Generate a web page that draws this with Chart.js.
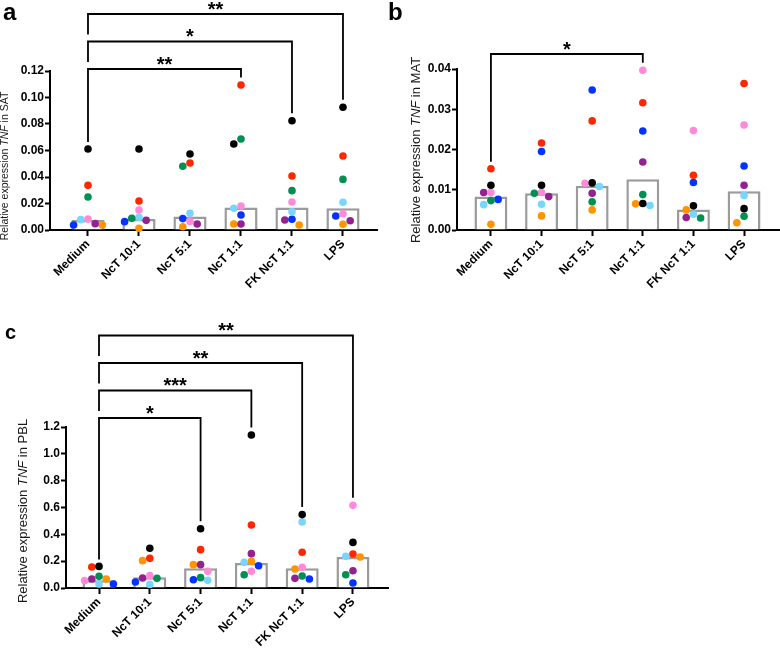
<!DOCTYPE html>
<html>
<head>
<meta charset="utf-8">
<script src="https://cdn.jsdelivr.net/npm/chart.js@4.4.0/dist/chart.umd.min.js"></script>
<style>
  body { margin: 0; background: #fff; width: 780px; height: 654px; position: relative; overflow: hidden; font-family: 'Liberation Sans', Arial, sans-serif; }
  canvas { position: absolute; }
  .tag { position: absolute; font-weight: bold; line-height: 1; color: #000; }
</style>
</head>
<body>
<canvas id="satChart" width="390" height="320" style="left:0;top:0"></canvas>
<canvas id="matChart" width="385" height="320" style="left:395px;top:0"></canvas>
<canvas id="pblChart" width="400" height="336" style="left:0;top:318px"></canvas>
<div class="tag" style="left:3px;top:0;font-size:24px">a</div>
<div class="tag" style="left:388px;top:0;font-size:24px">b</div>
<div class="tag" style="left:5px;top:322px;font-size:20px">c</div>

<script>
// groups on the x axis
const groups = ['Medium', 'NcT 10:1', 'NcT 5:1', 'NcT 1:1', 'FK NcT 1:1', 'LPS'];

// one row per donor: black, red, green, pink, light blue, blue, purple, orange
const satValues = [
  [0.0611, 0.0611, 0.0574, 0.0649, 0.0825, 0.0926],
  [0.0337, 0.0219, 0.0506, 0.1094, 0.0408, 0.0558],
  [0.0249, 0.0088, 0.0481, 0.0687, 0.0297, 0.0382],
  [0.0083, 0.0151, 0.0065, 0.0181, 0.0211, 0.0123],
  [0.0078, 0.0096, 0.0126, 0.0164, 0.0138, 0.0209],
  [0.0038, 0.0063, 0.0086, 0.0113, 0.0081, 0.0106],
  [0.0048, 0.0073, 0.0045, 0.0045, 0.0075, 0.0070],
  [0.0038, 0.0013, 0.0025, 0.0045, 0.0038, 0.0043]
];
const satMedian = [0.0075, 0.0083, 0.0101, 0.0169, 0.0169, 0.0164];
const satTicks = [0, 0.02, 0.04, 0.06, 0.08, 0.10, 0.12];
const satSig = [[0, 3, '**'], [0, 4, '*'], [0, 5, '**']];

const matValues = [
  [0.0111, 0.0111, 0.0117, 0.0066, 0.0060, 0.0053],
  [0.0152, 0.0216, 0.0271, 0.0316, 0.0136, 0.0364],
  [0.0073, 0.0091, 0.0070, 0.0088, 0.0030, 0.0034],
  [0.0093, 0.0093, 0.0116, 0.0397, 0.0247, 0.0261],
  [0.0063, 0.0064, 0.0108, 0.0061, 0.0039, 0.0086],
  [0.0076, 0.0195, 0.0348, 0.0246, 0.0118, 0.0159],
  [0.0093, 0.0083, 0.0091, 0.0169, 0.0031, 0.0111],
  [0.0014, 0.0035, 0.0050, 0.0065, 0.0050, 0.0018]
];
const matMedian = [0.0083, 0.0091, 0.0110, 0.0126, 0.0051, 0.0096];
const matTicks = [0, 0.01, 0.02, 0.03, 0.04];
const matSig = [[0, 3, '*']];

const pblValues = [
  [0.161, 0.296, 0.442, 1.140, 0.547, 0.340],
  [0.157, 0.221, 0.286, 0.470, 0.266, 0.253],
  [0.087, 0.072, 0.077, 0.099, 0.089, 0.099],
  [0.055, 0.092, 0.124, 0.124, 0.154, 0.616],
  [0.030, 0.027, 0.057, 0.191, 0.492, 0.236],
  [0.030, 0.045, 0.062, 0.166, 0.067, 0.037],
  [0.067, 0.075, 0.174, 0.256, 0.072, 0.129],
  [0.067, 0.204, 0.174, 0.199, 0.142, 0.231]
];
const pblMedian = [0.057, 0.080, 0.147, 0.186, 0.147, 0.231];
const pblTicks = [0, 0.2, 0.4, 0.6, 0.8, 1.0, 1.2];
const pblSig = [[0, 2, '*'], [0, 3, '***'], [0, 4, '**'], [0, 5, '**']];

// styles
const donorColors = ['#000000', '#FF2600', '#009051', '#FF8AD8', '#76D6FF', '#0433FF', '#942192', '#FF9300'];
const FONT = "'Liberation Sans', Arial, sans-serif";
const DOT_R = 3.8;
const LEVEL_STEP = 27.5;

function decor(p) {
  return {
    id: 'decor',
    afterDraw(chart) {
      const ctx = chart.ctx;
      const xs = chart.scales.x, ys = chart.scales.y;
      const top = chart.chartArea.top;
      ctx.save();
      // significance brackets
      ctx.strokeStyle = '#000';
      ctx.fillStyle = '#000';
      ctx.lineWidth = 1.8;
      ctx.textAlign = 'center';
      ctx.textBaseline = 'alphabetic';
      ctx.font = 'bold 20px ' + FONT;
      p.sig.forEach(([a, b, stars], k) => {
        const ly = top - p.bracketBase - k * LEVEL_STEP;
        const xa = xs.getPixelForValue(a), xb = xs.getPixelForValue(b);
        const maxA = Math.max(...p.values.map(r => r[a]));
        const maxB = Math.max(...p.values.map(r => r[b]));
        const leftEnd = k === 0 ? ys.getPixelForValue(maxA) - 7
                                : top - p.bracketBase - (k - 1) * LEVEL_STEP - 7;
        const rightEnd = ys.getPixelForValue(maxB) - 7.5;
        ctx.beginPath();
        ctx.moveTo(xa, leftEnd);
        ctx.lineTo(xa, ly);
        ctx.lineTo(xb, ly);
        ctx.lineTo(xb, rightEnd);
        ctx.stroke();
        ctx.fillText(stars, (xa + xb) / 2, ly + 1.5);
      });
      // y axis title with italic gene name
      const parts = [['Relative expression ', false], ['TNF', true], [' in ' + p.tissue, false]];
      const fontOf = it => (it ? 'italic ' : '') + p.titleSize + 'px ' + FONT;
      let total = 0;
      parts.forEach(([t, it]) => { ctx.font = fontOf(it); total += ctx.measureText(t).width; });
      ctx.translate(p.titleX, p.titleY);
      ctx.rotate(-Math.PI / 2);
      ctx.textAlign = 'left';
      ctx.fillStyle = '#1a1a1a';
      let x = -total / 2;
      parts.forEach(([t, it]) => {
        ctx.font = fontOf(it);
        ctx.fillText(t, x, 0);
        x += ctx.measureText(t).width;
      });
      ctx.restore();
    }
  };
}

// spread dots of one group sideways so they do not sit on top of each other
function swarm(chart, values) {
  const xs = chart.scales.x, ys = chart.scales.y;
  const pxUnit = xs.getPixelForValue(1) - xs.getPixelForValue(0);
  const d = DOT_R * 2 - 0.4;
  groups.forEach((g, gi) => {
    const pts = values.map((row, di) => ({ di, py: ys.getPixelForValue(row[gi]) }));
    pts.sort((a, b) => a.py - b.py);
    const placed = [];
    pts.forEach(pt => {
      for (let k = 0; k < 15; k++) {
        const off = k === 0 ? 0 : (k % 2 ? -1 : 1) * Math.ceil(k / 2) * d;
        if (placed.every(q => Math.hypot(q.off - off, q.py - pt.py) >= d)) {
          pt.off = off;
          placed.push(pt);
          break;
        }
      }
    });
    pts.forEach(pt => { chart.data.datasets[pt.di + 1].data[gi].x = gi + pt.off / pxUnit; });
  });
  chart.update('none');
}

function makeChart(id, p) {
  const canvas = document.getElementById(id);
  const W = canvas.width, H = canvas.height;
  const tickFont = { family: FONT, size: 12, weight: 'bold' };
  const datasets = [{
    type: 'bar',
    data: p.median.map((m, i) => ({ x: i, y: m })),
    backgroundColor: '#ffffff',
    borderColor: '#9b9b9b',
    borderWidth: 2.5,
    barPercentage: 0.65,
    categoryPercentage: 1,
    order: 2
  }];
  p.values.forEach((row, di) => {
    datasets.push({
      type: 'scatter',
      data: row.map((v, i) => ({ x: i, y: v })),
      backgroundColor: donorColors[di],
      borderWidth: 0,
      pointRadius: DOT_R,
      pointHoverRadius: DOT_R,
      clip: false,
      order: 1
    });
  });
  const chart = new Chart(canvas, {
    type: 'scatter',
    data: { datasets },
    options: {
      responsive: false,
      animation: false,
      layout: { autoPadding: false, padding: { left: 0, top: p.area.t, right: W - p.area.r, bottom: 0 } },
      plugins: { legend: { display: false }, tooltip: { enabled: false } },
      scales: {
        x: {
          type: 'linear',
          min: p.xMin, max: p.xMax,
          offset: false,
          afterFit: s => { s.height = H - p.area.b; },
          afterBuildTicks: s => { s.ticks = groups.map((g, i) => ({ value: i })); },
          grid: { display: true, offset: false, drawOnChartArea: false, drawTicks: true, tickLength: 6, tickWidth: 2, tickColor: '#000' },
          border: { display: true, color: '#000', width: 2 },
          ticks: { autoSkip: false, minRotation: 45, maxRotation: 45, padding: 1, color: '#000', font: tickFont,
                   callback: v => groups[v] }
        },
        y: {
          type: 'linear',
          min: 0, max: p.ticks[p.ticks.length - 1],
          afterFit: s => { s.width = p.area.l; },
          afterBuildTicks: s => { s.ticks = p.ticks.map(v => ({ value: v })); },
          grid: { display: true, drawOnChartArea: false, drawTicks: true, tickLength: 5, tickWidth: 2, tickColor: '#000' },
          border: { display: true, color: '#000', width: 2 },
          ticks: { padding: 1, color: '#000', font: tickFont, callback: v => v.toFixed(p.digits) }
        }
      }
    },
    plugins: [decor(p)]
  });
  swarm(chart, p.values);
  return chart;
}

makeChart('satChart', {
  values: satValues, median: satMedian, ticks: satTicks, digits: 2, sig: satSig, tissue: 'SAT',
  area: { l: 50, t: 71, r: 377, b: 230 }, xMin: -0.745, xMax: 5.667,
  bracketBase: 2, titleSize: 10.5, titleX: 7.5, titleY: 166
});
makeChart('matChart', {
  values: matValues, median: matMedian, ticks: matTicks, digits: 2, sig: matSig, tissue: 'MAT',
  area: { l: 62, t: 69, r: 385, b: 230 }, xMin: -0.67, xMax: 5.71,
  bracketBase: 15, titleSize: 13, titleX: 24.5, titleY: 150
});
makeChart('pblChart', {
  values: pblValues, median: pblMedian, ticks: pblTicks, digits: 1, sig: pblSig, tissue: 'PBL',
  area: { l: 66, t: 109, r: 388, b: 270 }, xMin: -0.65, xMax: 5.69,
  bracketBase: 9, titleSize: 13, titleX: 27, titleY: 193
});
</script>
</body>
</html>
